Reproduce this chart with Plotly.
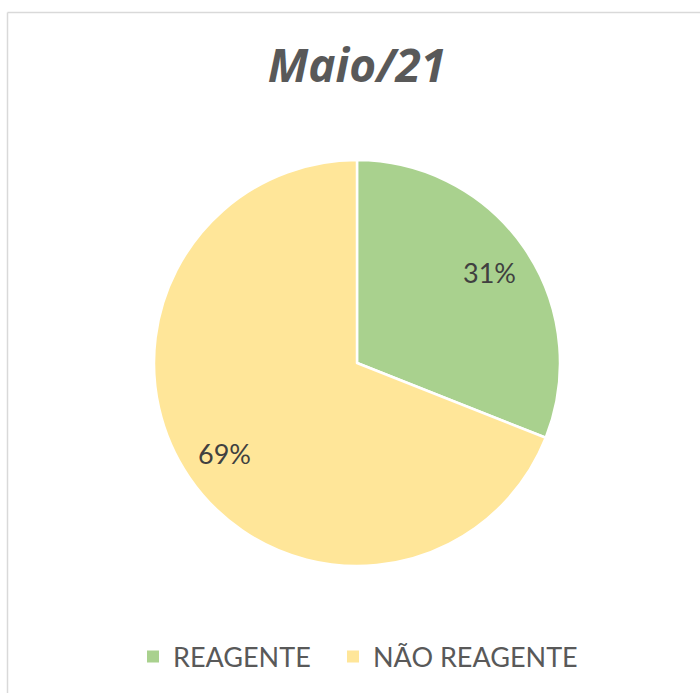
import math
import plotly.graph_objects as go

labels = ["REAGENTE", "NÃO REAGENTE"]
values = [31, 69]
colors = ["#A9D18E", "#FFE699"]
title = "Maio/21"

W, H = 700, 693
cx, cy, R = 357, 363, 203  # pie centre / radius in px

fig = go.Figure(go.Pie(
    labels=labels,
    values=values,
    sort=False,
    direction="clockwise",
    rotation=0,
    marker=dict(colors=colors, line=dict(color="white", width=2.5)),
    textinfo="none",
    domain=dict(x=[(cx - R) / W, (cx + R) / W], y=[1 - (cy + R) / H, 1 - (cy - R) / H]),
    hoverinfo="skip",
    showlegend=False,
))

# legend entries (square markers), one legend each so their spacing can be set
legend_x = [133 / W, 333 / W]
for i, (lab, col) in enumerate(zip(labels, colors)):
    lg = "legend" if i == 0 else f"legend{i + 1}"
    fig.add_trace(go.Scatter(x=[None], y=[None], mode="markers", name=lab,
                             marker=dict(symbol="square", size=12, color=col),
                             legend=lg, showlegend=True, hoverinfo="skip"))

legend_style = dict(orientation="h", xanchor="left", y=1 - 657 / H, yanchor="middle",
                    font=dict(family="Lato", size=27, color="#595959"),
                    itemwidth=30, bgcolor="rgba(0,0,0,0)")

# data labels placed at ~0.79 of the radius, at the mid-angle of each slice
total = sum(values)
annotations = []
acc = 0
for v in values:
    mid = (acc + v / 2) / total * 2 * math.pi
    acc += v
    px = cx + 0.79 * R * math.sin(mid)
    py = cy - 0.79 * R * math.cos(mid)
    annotations.append(dict(x=px / W, y=1 - py / H, xref="paper", yref="paper",
                            xanchor="center", yanchor="middle",
                            text=f"{round(v / total * 100)}%", showarrow=False,
                            font=dict(family="Lato", size=27, color="#404040")))

fig.update_layout(
    width=W, height=H,
    margin=dict(l=0, r=0, t=0, b=0),
    paper_bgcolor="white",
    plot_bgcolor="white",
    xaxis=dict(visible=False),
    yaxis=dict(visible=False),
    title=dict(text="<b><i>" + title + "</i></b>", x=357 / W, xanchor="center",
               y=1 - 66 / H, yanchor="middle",
               font=dict(family="Open Sans", size=46, color="#595959")),
    showlegend=True,
    legend=dict(x=legend_x[0], **legend_style),
    legend2=dict(x=legend_x[1], **legend_style),
    annotations=annotations,
    shapes=[
        dict(type="line", xref="paper", yref="paper", x0=7.5 / W, x1=1.0, y0=1 - 12.5 / H, y1=1 - 12.5 / H,
             line=dict(color="#D9D9D9", width=1.5)),
        dict(type="line", xref="paper", yref="paper", x0=7.5 / W, x1=7.5 / W, y0=0, y1=1 - 12.5 / H,
             line=dict(color="#D9D9D9", width=1.5)),
    ],
)

fig.write_html("out.html", config={"displayModeBar": False},
               post_script="document.body.style.margin='0';document.body.style.overflow='hidden';")
